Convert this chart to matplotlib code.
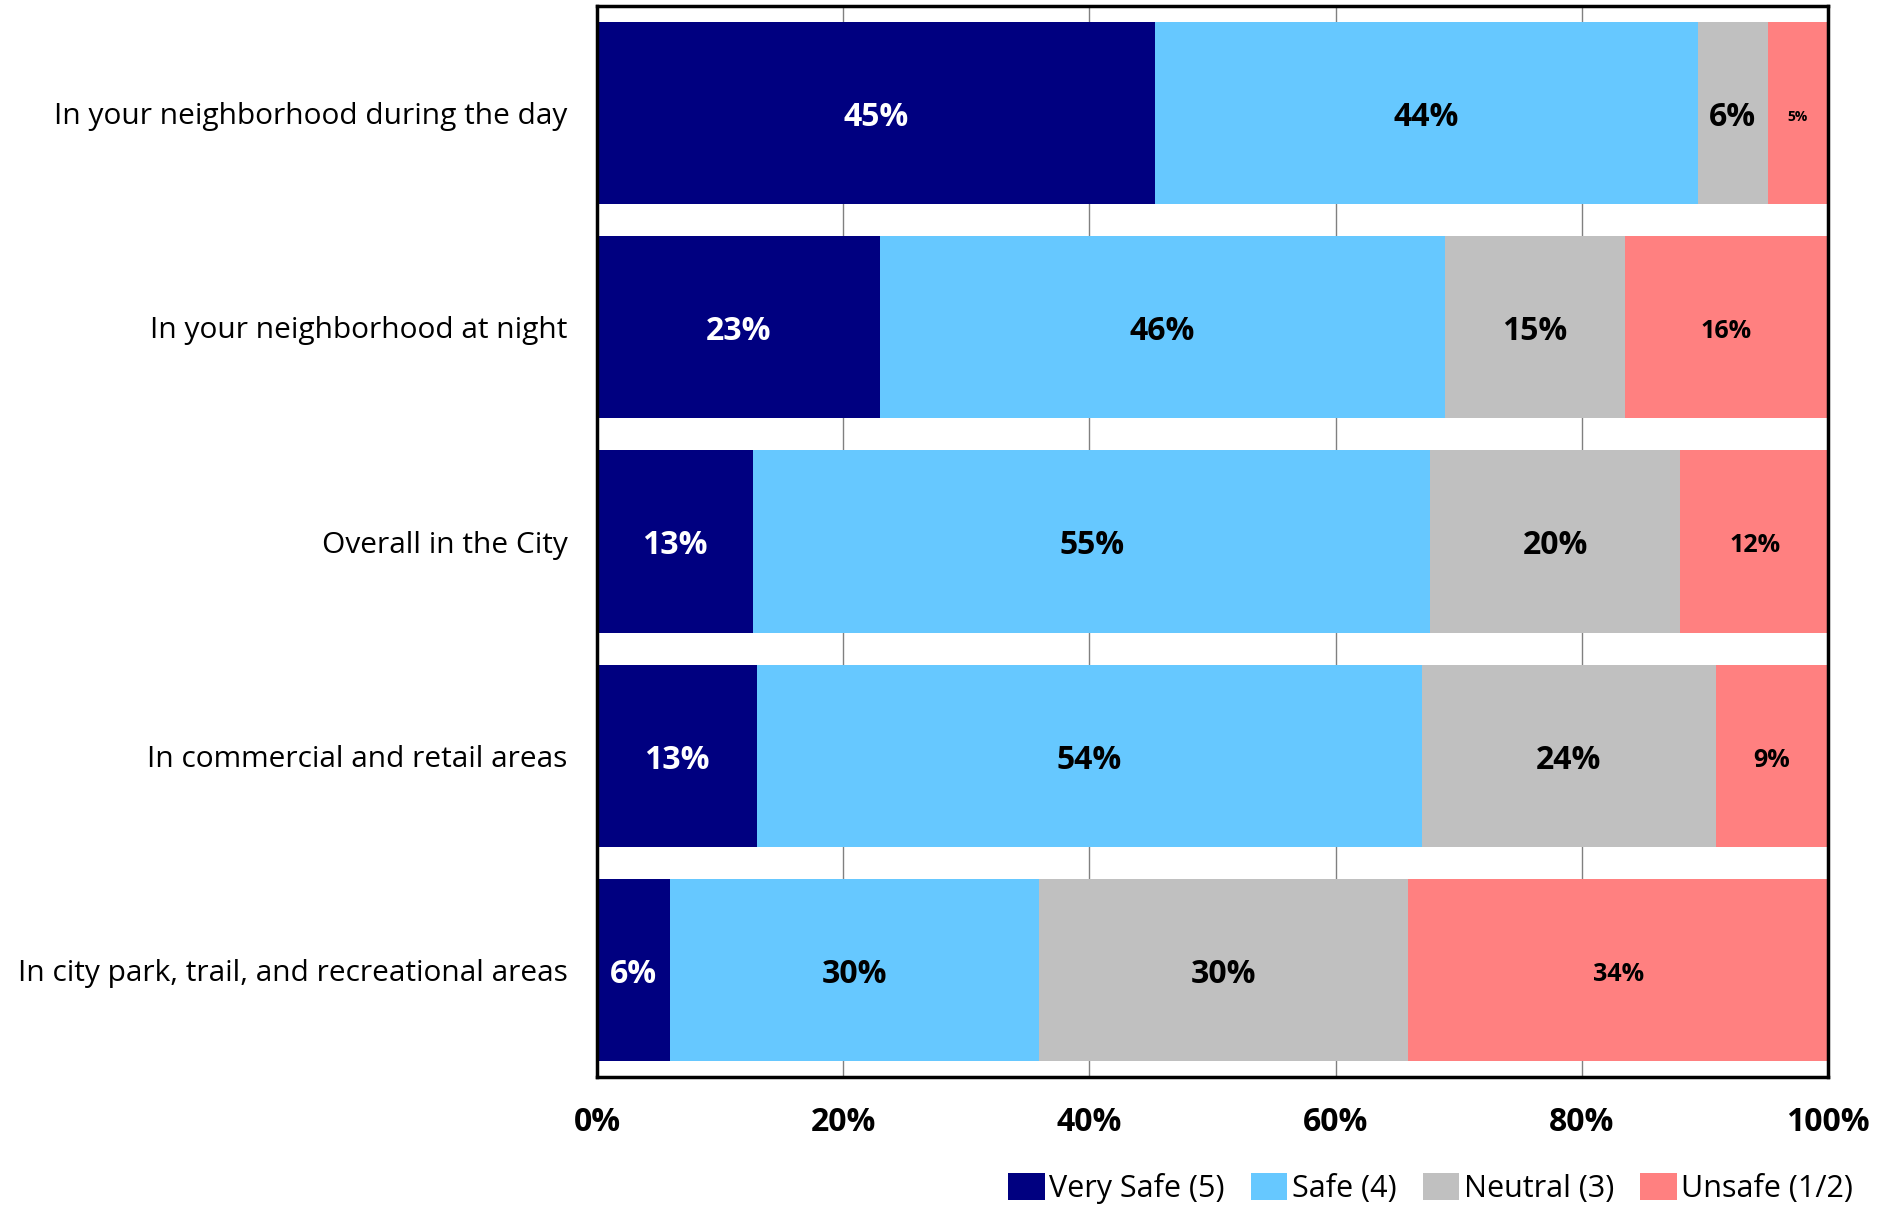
import numpy as np
import matplotlib.pyplot as plt
from matplotlib.patches import Patch

plt.rcParams['font.family'] = ['Open Sans', 'DejaVu Sans']

# data
categories = ['In your neighborhood during the day',
              'In your neighborhood at night',
              'Overall in the City',
              'In commercial and retail areas',
              'In city park, trail, and recreational areas']
series_names = ['Very Safe (5)', 'Safe (4)', 'Neutral (3)', 'Unsafe (1/2)']
very_safe = [45.3, 23.0, 12.7, 13.0, 5.9]
safe = [44.1, 45.9, 55.0, 54.0, 30.0]
neutral = [5.7, 14.6, 20.3, 23.9, 30.0]
unsafe = [4.9, 16.5, 12.1, 9.1, 34.1]
shown = [[45, 23, 13, 13, 6],
         [44, 46, 55, 54, 30],
         [6, 15, 20, 24, 30],
         [5, 16, 12, 9, 34]]
colors = ['#000080', '#66C8FF', '#C0C0C0', '#FF8080']
text_colors = ['white', 'black', 'black', 'black']

fig = plt.figure(figsize=(18.94, 12.05), dpi=100)
ax = fig.add_axes([0.3152, 0.1062, 0.65, 0.8888])

y = np.arange(len(categories))
left = np.zeros(len(categories))
for i, vals in enumerate([very_safe, safe, neutral, unsafe]):
    vals = np.array(vals)
    ax.barh(y, vals, left=left, height=0.85, color=colors[i], zorder=2)
    for j, v in enumerate(vals):
        size = 23 if i < 3 else 18
        if i == 3 and v < 6:
            size = 10
        ax.text(left[j] + v / 2, y[j] + 0.02, f'{shown[i][j]}%', ha='center', va='center',
                color=text_colors[i], fontsize=size, fontweight='bold', zorder=3)
    left += vals

ax.set_xlim(0, 100)
ax.set_ylim(len(categories) - 0.5, -0.5)
ax.set_yticks(y)
ax.set_yticklabels(categories, fontsize=21.5)
ax.set_xticks([0, 20, 40, 60, 80, 100])
ax.set_xticklabels(['0%', '20%', '40%', '60%', '80%', '100%'], fontsize=23, fontweight='bold')
ax.tick_params(axis='y', length=0, pad=21)
ax.tick_params(axis='x', length=0, pad=21)
ax.grid(axis='x', color='#808080', linewidth=1, zorder=0)
for s in ax.spines.values():
    s.set_linewidth(2.5)
    s.set_color('black')

handles = [Patch(facecolor=c, edgecolor='none') for c in colors]
fig.legend(handles, series_names, loc='lower right', bbox_to_anchor=(0.993, -0.022), ncol=4,
           frameon=False, fontsize=22, handlelength=1.2, handleheight=1.0,
           handletextpad=0.15, columnspacing=0.85)

fig.savefig('out.png', dpi=100)
